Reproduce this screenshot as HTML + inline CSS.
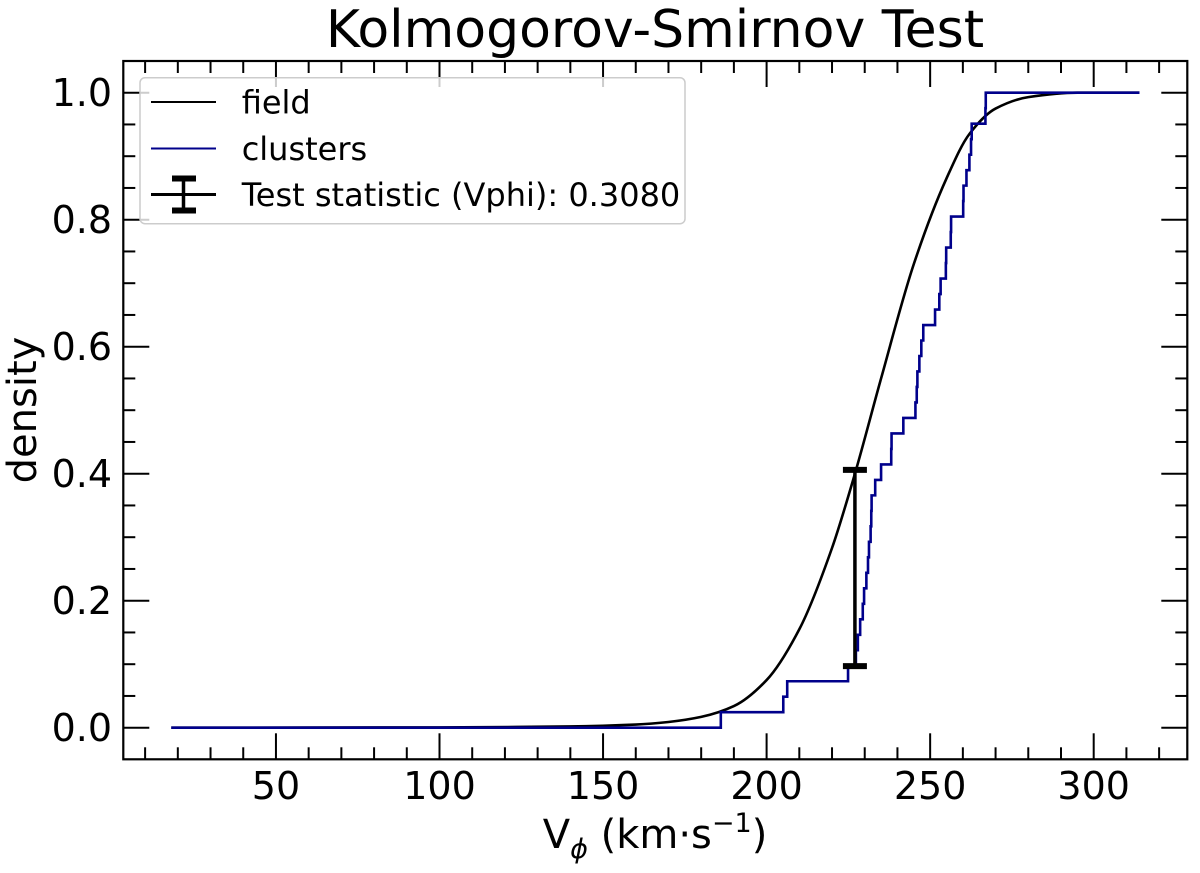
<!DOCTYPE html>
<html><head><meta charset="utf-8"><style>
html,body{margin:0;padding:0;background:#fff;}
svg{display:block;font-family:"DejaVu Sans","Liberation Sans",sans-serif;}
</style></head><body>
<svg id="chart" width="1200" height="873" viewBox="0 0 1200 873">
<rect x="0" y="0" width="1200" height="873" fill="#fff"/>
<text x="655" y="47" font-size="52" text-anchor="middle">Kolmogorov-Smirnov Test</text>
<g id="plot"></g>
<text x="655" y="848" font-size="40" text-anchor="middle">V<tspan font-size="27" dy="10" font-style="italic">ϕ</tspan><tspan dy="-10"> (km·s</tspan><tspan font-size="27" dy="-16">−1</tspan><tspan dy="16">)</tspan></text>
<text transform="translate(36,410) rotate(-90)" font-size="40" text-anchor="middle">density</text>
</svg>
<script>
const xTicks = [50, 100, 150, 200, 250, 300];
const yTicks = [0.0, 0.2, 0.4, 0.6, 0.8, 1.0];
const yTickLabels = ["0.0", "0.2", "0.4", "0.6", "0.8", "1.0"];
const fieldV = [18, 100, 140, 160, 170, 180, 190, 200, 210, 220, 227, 235, 245, 255, 262, 270, 280, 295, 314];
const fieldCdf = [0, 0.0005, 0.002, 0.005, 0.009, 0.017, 0.034, 0.075, 0.155, 0.283, 0.40, 0.55, 0.73, 0.865, 0.935, 0.975, 0.993, 1.0, 1.0];
const clusterN = 41;
const clusterStepV = [186.0, 205.1, 206.3, 224.9, 227.3, 227.9, 228.6, 229.4, 229.8, 230.5, 231.0, 231.3, 231.8, 232.0, 232.1, 233.2, 235.0, 238.1, 238.2, 241.8, 245.5, 245.9, 246.1, 246.7, 247.3, 247.9, 251.5, 252.8, 253.2, 254.8, 254.9, 256.3, 256.4, 260.1, 260.2, 261.1, 262.0, 262.5, 262.7, 266.9, 267.0];
const clusterStart = 18;
const clusterEnd = 314;
const ksX = 227.0;
const ksLow = 0.097;
const ksHigh = 0.406;

const L = 123.3, R = 1187.3, T = 61, B = 759.3;
function xs(v){ return 112.4 + v * 3.271; }
function ys(d){ return 727.7 - d * 635; }
const NS = "http://www.w3.org/2000/svg";
const g = document.getElementById('plot');
function mk(tag, attrs, parent){
  const e = document.createElementNS(NS, tag);
  for (const k in attrs) e.setAttribute(k, attrs[k]);
  (parent || g).appendChild(e);
  return e;
}

// field curve: monotone cubic through the points (in pixel space)
function monotonePath(px, py){
  const n = px.length;
  const dx = [], m = [], t = new Array(n);
  for (let i = 0; i < n - 1; i++){ dx.push(px[i+1]-px[i]); m.push((py[i+1]-py[i])/(px[i+1]-px[i])); }
  t[0] = m[0]; t[n-1] = m[n-2];
  for (let i = 1; i < n - 1; i++){
    if (m[i-1] * m[i] <= 0) t[i] = 0;
    else { const w1 = 2*dx[i]+dx[i-1], w2 = dx[i]+2*dx[i-1]; t[i] = (w1+w2)/(w1/m[i-1]+w2/m[i]); }
  }
  let d = 'M' + px[0].toFixed(2) + ',' + py[0].toFixed(2);
  for (let i = 0; i < n - 1; i++){
    const h = dx[i]/3;
    d += 'C' + (px[i]+h).toFixed(2) + ',' + (py[i]+t[i]*h).toFixed(2) + ' ' + (px[i+1]-h).toFixed(2) + ',' + (py[i+1]-t[i+1]*h).toFixed(2) + ' ' + px[i+1].toFixed(2) + ',' + py[i+1].toFixed(2);
  }
  return d;
}
const fl = mk('path', {d: monotonePath(fieldV.map(xs), fieldCdf.map(ys)), fill: 'none', stroke: '#000', 'stroke-width': 2.6, 'stroke-linejoin': 'round'});



// clusters step
let d2 = 'M' + xs(clusterStart).toFixed(2) + ',' + ys(0).toFixed(2);
let k = 0;
clusterStepV.forEach(v => {
  d2 += 'L' + xs(v).toFixed(2) + ',' + ys(k / clusterN).toFixed(2);
  k += 1;
  d2 += 'L' + xs(v).toFixed(2) + ',' + ys(k / clusterN).toFixed(2);
});
d2 += 'L' + xs(clusterEnd).toFixed(2) + ',' + ys(k / clusterN).toFixed(2);
const cl = mk('path', {d: d2, fill: 'none', stroke: '#00008b', 'stroke-width': 2.6});



// KS error bar
const eb = mk('g', {});


mk('line', {x1: xs(ksX), x2: xs(ksX), y1: ys(ksLow), y2: ys(ksHigh), stroke: '#000', 'stroke-width': 3.5}, eb);
[ksLow, ksHigh].forEach(y => {
  mk('line', {x1: xs(ksX) - 12, x2: xs(ksX) + 12, y1: ys(y), y2: ys(y), stroke: '#000', 'stroke-width': 6}, eb);
});

// axes frame
const fr = mk('rect', {x: L, y: T, width: R - L, height: B - T, fill: 'none', stroke: '#000', 'stroke-width': 2.2});



// x ticks
for (let v = 10; v <= 320; v += 10) {
  const x = xs(v);
  if (x < L + 1 || x > R - 1) continue;
  const major = v % 50 === 0;
  const len = major ? 26 : 12;
  mk('line', {x1: x, x2: x, y1: B, y2: B - len, stroke: '#000', 'stroke-width': 2});
  mk('line', {x1: x, x2: x, y1: T, y2: T + len, stroke: '#000', 'stroke-width': 2});
}
xTicks.forEach(v => {
  const t = mk('text', {x: xs(v), y: 799, 'font-size': 38, 'text-anchor': 'middle'});
  t.textContent = String(v);
  
  
});
// y ticks
for (let i = -1; i <= 21; i++) {
  const v = i * 0.05;
  const y = ys(v);
  if (y < T + 1 || y > B - 1) continue;
  const major = i % 4 === 0;
  const len = major ? 26 : 12;
  mk('line', {x1: L, x2: L + len, y1: y, y2: y, stroke: '#000', 'stroke-width': 2});
  mk('line', {x1: R, x2: R - len, y1: y, y2: y, stroke: '#000', 'stroke-width': 2});
}
yTicks.forEach((v, i) => {
  const t = mk('text', {x: 112, y: ys(v) + 13.5, 'font-size': 38, 'text-anchor': 'end'});
  t.textContent = yTickLabels[i];
  
  
});

// legend
const lg = mk('g', {});


mk('rect', {x: 140, y: 77.7, width: 545, height: 146, rx: 5, fill: 'rgba(255,255,255,0.8)', stroke: '#ccc', 'stroke-width': 1.5}, lg);
mk('line', {x1: 151, x2: 216, y1: 102, y2: 102, stroke: '#000', 'stroke-width': 2}, lg);
mk('line', {x1: 151, x2: 216, y1: 148.5, y2: 148.5, stroke: '#00008b', 'stroke-width': 2}, lg);
mk('line', {x1: 151, x2: 216, y1: 194.5, y2: 194.5, stroke: '#000', 'stroke-width': 3}, lg);
mk('line', {x1: 183.5, x2: 183.5, y1: 178, y2: 211, stroke: '#000', 'stroke-width': 3.5}, lg);
mk('line', {x1: 172, x2: 196, y1: 178.5, y2: 178.5, stroke: '#000', 'stroke-width': 6}, lg);
mk('line', {x1: 172, x2: 196, y1: 210.5, y2: 210.5, stroke: '#000', 'stroke-width': 6}, lg);
const labels = [["field", 113.3, 'legend-entry-field'], ["clusters", 160, 'legend-entry-clusters'], ["Test statistic (Vphi): 0.3080", 206, 'legend-entry-test-statistic']];
labels.forEach(l => {
  const t = mk('text', {x: 241.7, y: l[1], 'font-size': 32}, lg);
  t.textContent = l[0];
  
  
});
</script>
</body></html>
